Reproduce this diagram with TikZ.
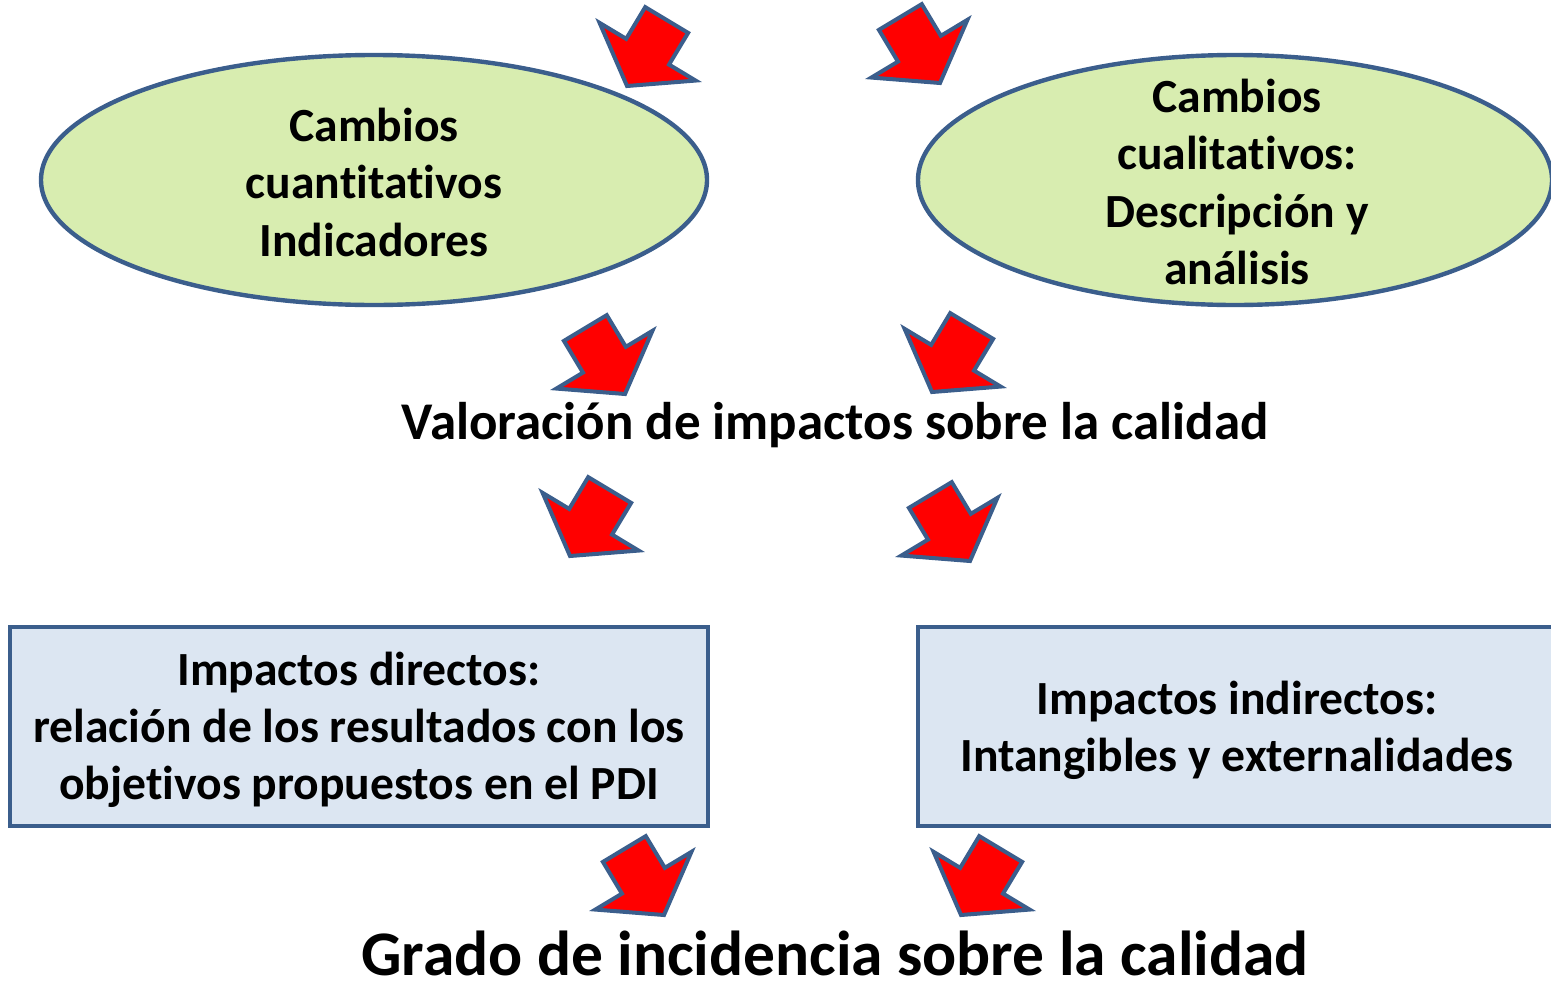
\documentclass[tikz,border=0pt]{standalone}
\usepackage{fontspec}
\setmainfont{Carlito}[Ligatures=NoCommon]
\usetikzlibrary{shapes.geometric}
\definecolor{edgeblue}{HTML}{3B5E8C}
\definecolor{ellfill}{HTML}{D8EDB0}
\definecolor{boxfill}{HTML}{DCE6F2}
\tikzset{
  ellnode/.style={ellipse, draw=edgeblue, line width=2.2pt, fill=ellfill, inner sep=0pt},
  elltext/.style={align=center, inner sep=0pt, font=\fontsize{23.8}{28.75}\selectfont\bfseries},
  boxnode/.style={rectangle, draw=edgeblue, line width=2pt, fill=boxfill, inner sep=0pt},
  boxtext/.style={align=center, inner sep=0pt, font=\fontsize{23.8}{28.6}\selectfont\bfseries},
  blockarrow/.style={draw=edgeblue, line width=2pt, fill=red, line join=miter},
  pics/downarrow/.style={code={
    \draw[blockarrow] (0,0) -- (56,-40) -- (25,-40) -- (25,-77) -- (-25,-77) -- (-25,-40) -- (-56,-40) -- cycle;}}
}
\begin{document}
\begin{tikzpicture}[x=0.5pt,y=-0.5pt]
\useasboundingbox (0,0) rectangle (1551,980);
\clip (0,0) rectangle (1551,980);

\node[ellnode, minimum width=333pt, minimum height=125pt] (cuant) at (374,180) {};
\node[elltext] (cuantt) at (374,182) {Cambios\\cuantitativos\\Indicadores};
\node[ellnode, minimum width=317pt, minimum height=125pt] (cual) at (1235,180) {};
\node[elltext] (cualt) at (1237,182) {Cambios\\cualitativos:\\Descripción y\\análisis};

\node[anchor=base, font=\fontsize{26.5}{32}\selectfont\bfseries] (val) at (835,439)
  {Valoración de impactos sobre la calidad};

\node[boxnode, minimum width=349pt, minimum height=99.5pt] (dir) at (359,726.5) {};
\node[boxtext] (dirt) at (359,730)
  {Impactos directos:\\relación de los resultados con los\\objetivos propuestos en el PDI};
\node[boxnode, minimum width=319pt, minimum height=99.5pt] (ind) at (1237,726.5) {};
\node[boxtext] (indt) at (1237,730) {Impactos indirectos:\\Intangibles y externalidades};

\node[anchor=base, font=\fontsize{31.75}{38}\selectfont\bfseries] (grado) at (835,975)
  {Grado de incidencia sobre la calidad};

\pic[rotate=-31] at (627,86) {downarrow};
\pic[rotate=31] at (940,83) {downarrow};
\pic[rotate=31] at (625,394) {downarrow};
\pic[rotate=-31] at (932,392) {downarrow};
\pic[rotate=-31] at (570,556) {downarrow};
\pic[rotate=31] at (970,561) {downarrow};
\pic[rotate=31] at (664,915) {downarrow};
\pic[rotate=-31] at (961,915) {downarrow};
\end{tikzpicture}
\end{document}
